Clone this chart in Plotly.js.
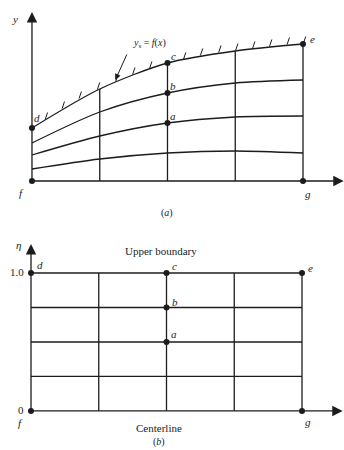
<!DOCTYPE html>
<html>
<head>
<meta charset="utf-8">
<script src="https://cdn.plot.ly/plotly-3.0.1.min.js"></script>
<style>html,body{margin:0;padding:0;background:#fff;}#chart{width:344px;height:450px;}</style>
</head>
<body>
<div id="chart"></div>
<script>
// ---- data ----
const gridX = [0, 1, 2, 3, 4];
// panel (a): physical plane, heights of the mesh lines
const upperBoundary = [0.53, 0.92, 1.18, 1.30, 1.37];
const meshLine3 = [0.38, 0.69, 0.88, 0.98, 1.01];
const meshLine2 = [0.26, 0.45, 0.58, 0.64, 0.65];
const meshLine1 = [0.12, 0.22, 0.28, 0.30, 0.28];
// hatch marks along the wall y_s = f(x)
const hatchX = [0.19, 0.44, 0.69, 0.96, 1.23, 1.48, 1.73, 2.23, 2.48, 2.75, 3.0, 3.25, 3.5, 3.76, 4.0];
const hatchY = [0.61, 0.72, 0.82, 0.91, 0.99, 1.06, 1.12, 1.21, 1.25, 1.28, 1.30, 1.32, 1.34, 1.36, 1.37];
// panel (b): computational plane
const etaLevels = [0, 0.25, 0.5, 0.75, 1.0];
const etaTickVals = [0, 1.0];
const etaTickText = ['0', '1.0'];
// labelled points
const ptLabels = ['d', 'c', 'b', 'a', 'e', 'f', 'g'];
const ptXa = [0, 2, 2, 2, 4, 0, 4];
const ptYa = [upperBoundary[0], upperBoundary[2], meshLine3[2], meshLine2[2], upperBoundary[4], 0, 0];
const ptXb = [0, 2, 2, 2, 4, 0, 4];
const ptYb = [1.0, 1.0, 0.75, 0.5, 1.0, 0, 0];

// ---- styling ----
const INK = '#1c1c1c';
const FONT = 'Liberation Serif, Times New Roman, serif';
const LW = 1.3;

const traces = [];
function line(x, y, xa, ya, shape) {
  traces.push({x: x, y: y, xaxis: xa, yaxis: ya, mode: 'lines', hoverinfo: 'skip',
    line: {color: INK, width: LW, shape: shape || 'linear', smoothing: 0.8}, showlegend: false});
}

// panel (a)
[upperBoundary, meshLine3, meshLine2, meshLine1].forEach(ys => line(gridX, ys, 'x', 'y', 'spline'));
for (let i = 1; i < gridX.length; i++) line([gridX[i], gridX[i]], [0, upperBoundary[i]], 'x', 'y');
// hatches
const hx = [], hy = [];
for (let i = 0; i < hatchX.length; i++) {
  hx.push(hatchX[i] + 0.005, hatchX[i] + 0.04, null);
  hy.push(hatchY[i] + 0.005, hatchY[i] + 0.075, null);
}
traces.push({x: hx, y: hy, xaxis: 'x', yaxis: 'y', mode: 'lines', hoverinfo: 'skip',
  line: {color: INK, width: 1}, showlegend: false});
traces.push({x: ptXa, y: ptYa, xaxis: 'x', yaxis: 'y', mode: 'markers', hoverinfo: 'skip',
  marker: {color: INK, size: 6}, showlegend: false});

// panel (b)
etaLevels.slice(1).forEach(e => line([gridX[0], gridX[gridX.length - 1]], [e, e], 'x2', 'y2'));
for (let i = 1; i < gridX.length; i++) line([gridX[i], gridX[i]], [0, 1.0], 'x2', 'y2');
traces.push({x: ptXb, y: ptYb, xaxis: 'x2', yaxis: 'y2', mode: 'markers', hoverinfo: 'skip',
  marker: {color: INK, size: 6}, showlegend: false});

const hidden = {visible: false, fixedrange: true};
const ann = [];
function arrowAx(xr, yr, x0, y0, x1, y1) {
  ann.push({xref: xr, yref: yr, axref: xr, ayref: yr, x: x1, y: y1, ax: x0, ay: y0,
    text: '', showarrow: true, arrowhead: 2, arrowsize: 1.6, arrowwidth: LW, arrowcolor: INK});
}
function txt(xr, yr, x, y, t, xs, ys, size, italic) {
  ann.push({xref: xr, yref: yr, x: x, y: y, text: italic ? '<i>' + t + '</i>' : t, showarrow: false,
    xshift: xs || 0, yshift: ys || 0, font: {family: FONT, size: size || 11, color: INK}});
}
// axes with arrows
arrowAx('x', 'y', 0, 0, 0, 1.69);
arrowAx('x', 'y', 0, 0, 4.6, 0);
arrowAx('x2', 'y2', 0, 0, 0, 1.21);
arrowAx('x2', 'y2', 0, 0, 4.6, 0);

// panel (a) texts
const offA = [[5, 10], [6, 7], [6, 7], [6, 7], [9, 5], [-10, -12], [5, -13]];
ptLabels.forEach((l, i) => txt('x', 'y', ptXa[i], ptYa[i], l, offA[i][0], offA[i][1], 11, true));
txt('x', 'y', 0, 1.62, 'y', -17, 0, 11, true);
txt('x', 'y', 2, -0.32, '(<i>a</i>)', 0, 0, 10);
txt('x', 'y', 1.74, 1.38, '<i>y</i><sub>s</sub> = <i>f</i>(<i>x</i>)', 0, 0, 10);
ann.push({xref: 'x', yref: 'y', axref: 'x', ayref: 'y', x: 1.23, y: 1.01, ax: 1.41, ay: 1.28,
  text: '', showarrow: true, arrowhead: 2, arrowsize: 1.2, arrowwidth: 1, arrowcolor: INK});

// panel (b) texts
const offB = [[9, 8], [8, 7], [8, 6], [7, 8], [8, 5], [-11, -12], [6, -11]];
ptLabels.forEach((l, i) => txt('x2', 'y2', ptXb[i], ptYb[i], l, offB[i][0], offB[i][1], 11, true));
txt('x2', 'y2', 0, 1.2, 'η', -13, 0, 11, true);
etaTickVals.forEach((v, i) => ann.push({xref: 'x2', yref: 'y2', x: 0, y: v, text: etaTickText[i],
  showarrow: false, xanchor: 'right', xshift: -5, yshift: 1, font: {family: FONT, size: 11, color: INK}}));
txt('x2', 'y2', 1.92, 1.145, 'Upper boundary', 0, 2, 11);
txt('x2', 'y2', 1.89, -0.123, 'Centerline', 0, 0, 11);
txt('x2', 'y2', 1.89, -0.225, '(<i>b</i>)', 0, 0, 10);

const layout = {
  width: 344, height: 450,
  margin: {l: 0, r: 0, t: 0, b: 0},
  paper_bgcolor: '#ffffff', plot_bgcolor: 'rgba(0,0,0,0)',
  showlegend: false,
  xaxis: Object.assign({domain: [0, 1], range: [-0.472, 4.605], anchor: 'y'}, hidden),
  yaxis: Object.assign({domain: [0.5, 1], range: [-0.44, 1.81], anchor: 'x'}, hidden),
  xaxis2: Object.assign({domain: [0, 1], range: [-0.4576, 4.62], anchor: 'y2'}, hidden),
  yaxis2: Object.assign({domain: [0, 0.5], range: [-0.283, 1.348], anchor: 'x2'}, hidden),
  annotations: ann
};
Plotly.newPlot('chart', traces, layout, {staticPlot: true, displayModeBar: false});
</script>
</body>
</html>
